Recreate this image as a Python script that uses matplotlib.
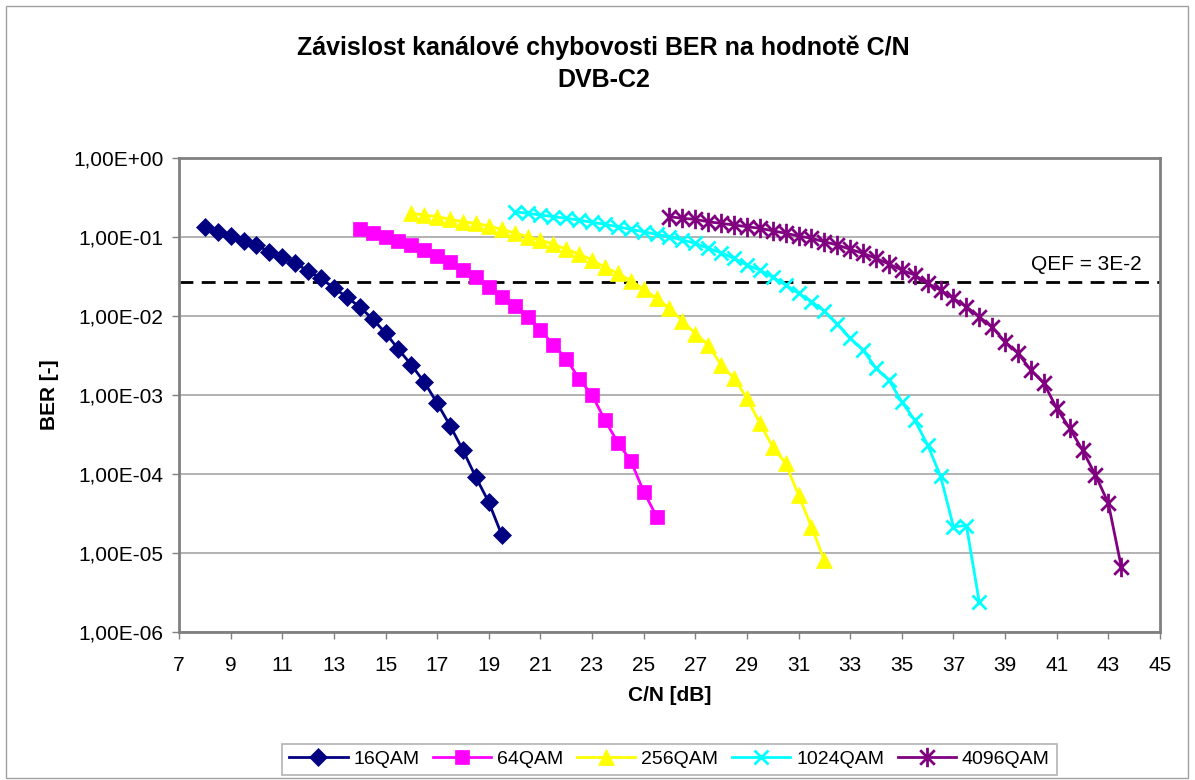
import matplotlib
matplotlib.use("Agg")
import matplotlib.pyplot as plt
import numpy as np
from matplotlib.path import Path
from matplotlib.patches import Rectangle
from matplotlib.ticker import FixedLocator, FuncFormatter, NullLocator

plt.rcParams["font.family"] = ["Liberation Sans", "DejaVu Sans"]

# C/N [dB] a BER
cn_16 = np.arange(8.0, 19.51, 0.5)
ber_16 = [0.134, 0.116, 0.103, 0.089, 0.079, 0.065, 0.056, 0.047, 0.037, 0.030,
          0.0226, 0.0174, 0.013, 0.0092, 0.0061, 0.0038, 0.0024, 0.00146, 0.00079,
          0.00041, 0.0002, 9.1e-5, 4.4e-5, 1.7e-5]

cn_64 = np.arange(14.0, 25.51, 0.5)
ber_64 = [0.125, 0.111, 0.101, 0.089, 0.079, 0.068, 0.057, 0.049, 0.038, 0.031,
          0.023, 0.0175, 0.0134, 0.0098, 0.0067, 0.0043, 0.0029, 0.0016, 0.001,
          0.00048, 0.00025, 0.000147, 6.0e-5, 2.9e-5]

cn_256 = np.arange(16.0, 32.01, 0.5)
ber_256 = [0.200, 0.190, 0.181, 0.168, 0.156, 0.149, 0.138, 0.125, 0.113, 0.101,
           0.0916, 0.0815, 0.0698, 0.0609, 0.0512, 0.0413, 0.0347, 0.028, 0.0218,
           0.0168, 0.0125, 0.0087, 0.0060, 0.0043, 0.0024, 0.00163, 0.00091,
           0.00044, 0.00022, 0.000136, 5.4e-5, 2.15e-5, 8.1e-6]

cn_1024 = np.arange(20.0, 38.01, 0.5)
ber_1024 = [0.209, 0.1995, 0.190, 0.181, 0.1725, 0.164, 0.1535, 0.1448, 0.135, 0.125,
            0.1167, 0.108, 0.1009, 0.0916, 0.0832, 0.0719, 0.0633, 0.0537, 0.0442,
            0.0382, 0.0309, 0.0247, 0.0194, 0.0152, 0.01156, 0.00792, 0.00522,
            0.00371, 0.00218, 0.00155, 0.00082, 0.00048, 0.000233, 9.4e-5,
            2.15e-5, 2.23e-5, 2.4e-6]

cn_4096 = np.arange(26.0, 43.51, 0.5)
ber_4096 = [0.181, 0.1725, 0.1675, 0.156, 0.149, 0.142, 0.135, 0.129, 0.120, 0.1114,
            0.103, 0.0963, 0.0872, 0.0792, 0.0699, 0.0622, 0.0537, 0.0455, 0.0382,
            0.0330, 0.0259, 0.0213, 0.0167, 0.0131, 0.0098, 0.0072, 0.00473,
            0.00337, 0.00207, 0.00141, 0.00068, 0.000379, 0.000201, 9.7e-5,
            4.26e-5, 6.7e-6]

qef_level = 0.027
qef_text = "QEF = 3E-2"

# hvězdička jako v Excelu: X + svislá čára
star = Path(
    [(0, -1), (0, 1), (-0.75, -0.75), (0.75, 0.75), (-0.75, 0.75), (0.75, -0.75)],
    [Path.MOVETO, Path.LINETO, Path.MOVETO, Path.LINETO, Path.MOVETO, Path.LINETO],
)

series = [
    ("16QAM", cn_16, ber_16, "#000080", "D", 9),
    ("64QAM", cn_64, ber_64, "#FF00FF", "s", 10),
    ("256QAM", cn_256, ber_256, "#FFFF00", "^", 12),
    ("1024QAM", cn_1024, ber_1024, "#00FFFF", "x", 10),
    ("4096QAM", cn_4096, ber_4096, "#800080", star, 14),
]

fig = plt.figure(figsize=(11.95, 7.8), dpi=100)
ax = fig.add_axes([0.1498, 0.1897, 0.8209, 0.6077])

for name, x, y, c, m, ms in series:
    unfilled = m in ("x",) or isinstance(m, Path)
    ax.plot(x, y, color=c, lw=2, marker=m, markersize=ms,
            markerfacecolor=c, markeredgecolor=c,
            markeredgewidth=2 if unfilled else 0.5, label=name, zorder=3)

ax.axhline(qef_level, color="black", lw=2, ls=(0, (5, 3)), zorder=2)
ax.annotate(qef_text, xy=(44.3, qef_level), xytext=(0, 6), textcoords="offset points",
            ha="right", va="bottom", fontsize=15)

ax.set_yscale("log")
ax.set_xlim(7, 45)
ax.set_ylim(1e-6, 1)
ax.xaxis.set_major_locator(FixedLocator(np.arange(7, 46, 2)))
ax.yaxis.set_major_locator(FixedLocator([10.0 ** k for k in range(-6, 1)]))
ax.yaxis.set_minor_locator(NullLocator())
ax.yaxis.set_major_formatter(FuncFormatter(
    lambda v, p: ("1,00E%+03d" % int(round(np.log10(v))))))

ax.grid(axis="y", color="#a6a6a6", lw=1.2, zorder=0)
for s in ax.spines.values():
    s.set_color("#808080")
    s.set_linewidth(2)
ax.tick_params(axis="both", direction="out", length=5, color="#808080",
               labelsize=15, width=1)
ax.tick_params(axis="x", pad=12)
ax.tick_params(axis="y", pad=6)

ax.set_xlabel("C/N [dB]", fontsize=15, fontweight="bold", labelpad=8)
ax.set_ylabel("BER [-]", fontsize=15, fontweight="bold", labelpad=10)

fig.text(0.505, 0.918, "Závislost kanálové chybovosti BER na hodnotě C/N\nDVB-C2",
         ha="center", va="center", fontsize=18, fontweight="bold", linespacing=1.45)

leg = ax.legend(loc="upper center", bbox_to_anchor=(0.5, -0.215), ncol=5,
                frameon=True, fancybox=False, fontsize=14, handlelength=3.0,
                columnspacing=0.7, handletextpad=0.3, borderpad=0.35)
leg.get_frame().set_edgecolor("#a0a0a0")
leg.get_frame().set_linewidth(1.2)

fig.patches.append(Rectangle((6 / 1195, 0.002), 1182 / 1195, 0.99, transform=fig.transFigure,
                             fill=False, edgecolor="#a0a0a0", lw=1))

fig.savefig("out.png", dpi=100)
